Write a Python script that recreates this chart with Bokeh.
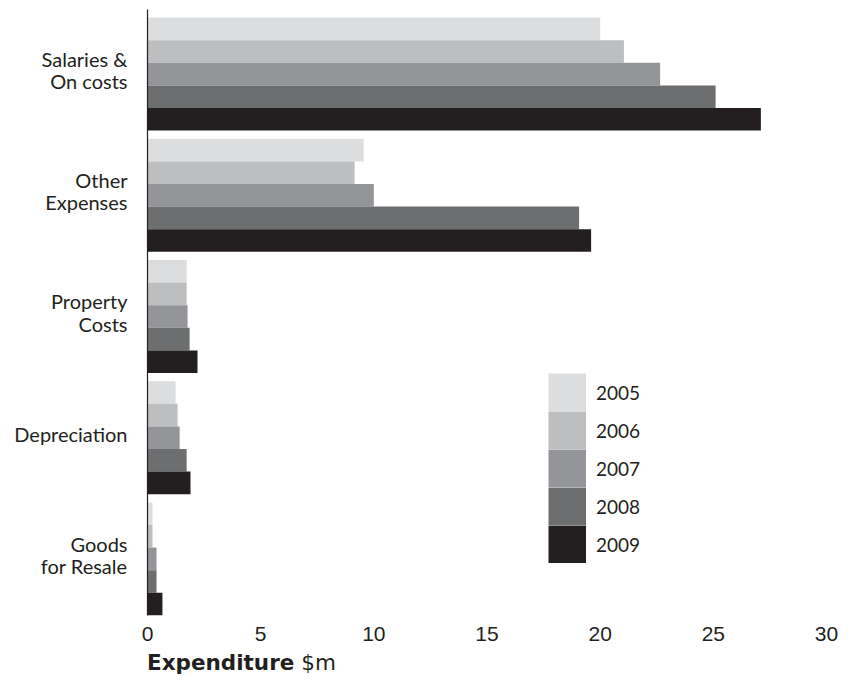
from bokeh.plotting import figure
from bokeh.models import (FactorRange, Range1d, Legend, LegendItem, ColumnDataSource,
                          FixedTicker, Div, CDSView, IndexFilter)
from bokeh.layouts import column
from bokeh.transform import dodge
from bokeh.embed import file_html
from bokeh.resources import INLINE

# ---------------- data ----------------
categories = ["Salaries &\nOn costs", "Other\nExpenses", "Property\nCosts",
              "Depreciation", "Goods\nfor Resale"]
years = ["2005", "2006", "2007", "2008", "2009"]
v2005 = [20.0, 9.55, 1.73, 1.24, 0.22]
v2006 = [21.05, 9.15, 1.73, 1.33, 0.22]
v2007 = [22.65, 10.0, 1.77, 1.42, 0.40]
v2008 = [25.1, 19.07, 1.86, 1.73, 0.40]
v2009 = [27.1, 19.6, 2.21, 1.90, 0.66]
colors = ["#dcdddf", "#bcbec0", "#939598", "#6d6e70", "#231f20"]
x_ticks = [0, 5, 10, 15, 20, 25, 30]
x_title_bold = "Expenditure"
x_title_unit = "$m"

series = [v2005, v2006, v2007, v2008, v2009]
src = ColumnDataSource(dict(cat=categories, **{("y" + y): s for y, s in zip(years, series)}))

TEXT = "#231f20"

p = figure(width=851, height=655, output_backend="svg", toolbar_location=None,
           y_range=FactorRange(factors=list(reversed(categories)), range_padding=0),
           x_range=Range1d(0, 30),
           min_border_left=147, min_border_right=25, min_border_top=9, min_border_bottom=40)
p.outline_line_color = None
p.grid.grid_line_color = None
p.background_fill_color = "white"
p.border_fill_color = "white"
p.margin = 0

bar_h = 0.1865
shift = -0.033
one_row = CDSView(filter=IndexFilter([0]))
renderers = []
for i, (y, c) in enumerate(zip(years, colors)):
    off = (2 - i) * bar_h + shift
    p.hbar(y=dodge("cat", off, range=p.y_range), left=0, right="y" + y,
           height=bar_h, source=src, fill_color=c, line_color=None)
    # legend swatch proxy: a single-point (hence invisible) thick butt-capped line,
    # whose legend glyph is a solid 38x38 square so swatches touch like the reference
    renderers.append(p.line(x="y" + y, y="cat", source=src, view=one_row,
                            line_width=38, line_color=c, line_cap="butt"))

# x axis
xa = p.xaxis[0]
xa.ticker = FixedTicker(ticks=x_ticks)
xa.axis_line_color = None
xa.major_tick_line_color = None
xa.minor_tick_line_color = None
xa.major_tick_out = 0
xa.major_label_standoff = 11
xa.major_label_text_font = "Liberation Sans"
xa.major_label_text_font_size = "21px"
xa.major_label_text_color = TEXT

# y axis
ya = p.yaxis[0]
ya.axis_line_color = TEXT
ya.axis_line_width = 1.2
ya.major_tick_line_color = None
ya.minor_tick_line_color = None
ya.major_tick_out = 0
ya.major_label_standoff = 20
ya.major_label_text_font = "Lato"
ya.major_label_text_font_size = "20px"
ya.major_label_text_color = TEXT
ya.major_label_text_line_height = 0.92

legend = Legend(items=[LegendItem(label=y, renderers=[r]) for y, r in zip(years, renderers)],
                location=(401, 52), glyph_width=38, glyph_height=38, spacing=0,
                padding=0, margin=0, border_line_color=None, background_fill_alpha=0,
                label_text_font="Lato", label_text_font_size="19px",
                label_text_color=TEXT, label_standoff=10)
p.add_layout(legend)

title = Div(
    text=('<div style="font-family:\'DejaVu Sans\';font-size:21.5px;line-height:1;'
          'color:%s;margin-top:-3px;white-space:nowrap">'
          '<span style="font-weight:bold">%s</span> %s</div>') % (TEXT, x_title_bold, x_title_unit),
    width=704, height=26, margin=(0, 0, 0, 147))

layout = column(p, title, spacing=0)
open("out.html", "w").write(file_html(layout, INLINE))
